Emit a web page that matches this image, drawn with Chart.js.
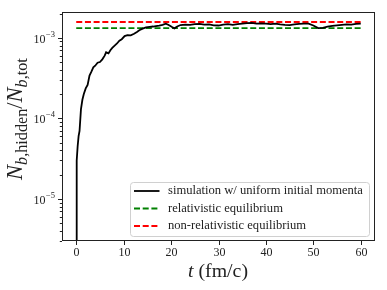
<!DOCTYPE html>
<html><head><meta charset="utf-8">
<script src="https://cdn.jsdelivr.net/npm/chart.js@4"></script>
<style>html,body{margin:0;padding:0;background:#fff}canvas{display:block}</style>
</head><body>
<canvas id="c" width="387" height="290"></canvas>
<script>
// ---- data ----
const simTimes = [0,0.1,0.3,0.5,0.7,1.0,1.3,1.6,2.0,2.4,2.8,3.2,3.6,4.0,4.5,5.0,5.5,6.0,6.3,6.8,7.2,7.6,8.1,8.6,9.1,9.6,10.2,10.8,11.5,12.2,12.8,13.3,14.0,14.7,15.5,16.2,16.8,17.5,18.2,18.9,19.5,20.2,20.7,21.3,22,23,24,25,26,27,28,29,30,31,32,33,34,35,36,37,38,39,40,41,42,43,44,45,46,47,48,49,50,51,52,53,54,55,56,57,58,59,60];
const simValues = [1e-7,3.0e-5,4.5e-5,6.0e-5,7.0e-5,1.3e-4,1.7e-4,2.0e-4,2.35e-4,2.6e-4,3.4e-4,3.8e-4,4.3e-4,4.5e-4,4.9e-4,5.0e-4,5.4e-4,6.0e-4,6.6e-4,6.4e-4,7.0e-4,7.5e-4,8.0e-4,8.5e-4,9.2e-4,9.6e-4,1.05e-3,1.08e-3,1.07e-3,1.12e-3,1.18e-3,1.24e-3,1.30e-3,1.35e-3,1.37e-3,1.38e-3,1.40e-3,1.42e-3,1.45e-3,1.50e-3,1.44e-3,1.36e-3,1.31e-3,1.38e-3,1.44e-3,1.46e-3,1.45e-3,1.48e-3,1.49e-3,1.46e-3,1.47e-3,1.43e-3,1.42e-3,1.46e-3,1.48e-3,1.45e-3,1.48e-3,1.50e-3,1.52e-3,1.53e-3,1.50e-3,1.51e-3,1.50e-3,1.48e-3,1.50e-3,1.47e-3,1.45e-3,1.44e-3,1.47e-3,1.49e-3,1.50e-3,1.50e-3,1.42e-3,1.32e-3,1.33e-3,1.38e-3,1.41e-3,1.43e-3,1.45e-3,1.47e-3,1.46e-3,1.49e-3,1.50e-3];
const eqTimes = [0, 60];
const relEqValues = [1.32e-3, 1.32e-3];
const nonRelEqValues = [1.57e-3, 1.57e-3];
const xTickValues = [0,10,20,30,40,50,60];
const xTickLabels = ['0','10','20','30','40','50','60'];
const yTickValues = [1e-5,1e-4,1e-3];
const yTickBase = ['10','10','10'];
const yTickExp = ['\u22125','\u22124','\u22123'];
const seriesLabels = ['simulation w/ uniform initial momenta','relativistic equilibrium','non-relativistic equilibrium'];
const seriesColors = ['#000000','#008000','#ff0000'];

const SERIF = '"Liberation Serif","DejaVu Serif",serif';

function toXY(xs, ys){ return xs.map((x,i)=>({x:x,y:ys[i]})); }

// draw a run of styled text parts scaled to a target width; returns nothing
function drawRich(ctx, parts, targetW, cx, cy){
  let tot=0;
  parts.forEach(p=>{ctx.font=(p.it?'italic ':'')+p.s+'px '+SERIF; tot+=ctx.measureText(p.t).width;});
  const k = targetW/tot;
  let x = cx - targetW/2;
  ctx.textAlign='left'; ctx.textBaseline='alphabetic';
  parts.forEach(p=>{
    ctx.font=(p.it?'italic ':'')+(p.s*k).toFixed(2)+'px '+SERIF;
    ctx.fillText(p.t, x, cy + (p.dy||0)*k);
    x += ctx.measureText(p.t).width;
  });
}

const overlay = {
  id:'overlay',
  afterDraw(chart){
    const ctx = chart.ctx, a = chart.chartArea;
    const xs = chart.scales.x, ys = chart.scales.y;
    ctx.save();
    // frame
    ctx.strokeStyle = '#222'; ctx.lineWidth = 1;
    ctx.strokeRect(Math.round(a.left)+0.5, Math.round(a.top)+0.5, Math.round(a.right-a.left)-1, Math.round(a.bottom-a.top)-1);
    // x ticks
    ctx.fillStyle = '#222';
    ctx.font = '12px ' + SERIF;
    ctx.textAlign = 'center'; ctx.textBaseline = 'middle';
    xTickValues.forEach((v,i)=>{
      const px = Math.round(xs.getPixelForValue(v))+0.5;
      ctx.beginPath(); ctx.moveTo(px, a.bottom); ctx.lineTo(px, a.bottom+4); ctx.stroke();
      ctx.fillText(xTickLabels[i], px, a.bottom+11.5);
    });
    // y minor ticks
    for (let e=-7;e<=-2;e++){
      for (let m=2;m<=9;m++){
        const v = m*Math.pow(10,e);
        if (v<ys.min || v>ys.max) continue;
        const py = Math.round(ys.getPixelForValue(v))+0.5;
        ctx.beginPath(); ctx.moveTo(a.left, py); ctx.lineTo(a.left-2.2, py); ctx.stroke();
      }
    }
    // y major ticks + labels
    yTickValues.forEach((v,i)=>{
      const py = Math.round(ys.getPixelForValue(v))+0.5;
      ctx.beginPath(); ctx.moveTo(a.left, py); ctx.lineTo(a.left-4, py); ctx.stroke();
      ctx.font = '8.5px ' + SERIF;
      const ew = ctx.measureText(yTickExp[i]).width;
      ctx.textAlign = 'right'; ctx.textBaseline = 'middle';
      const right = a.left - 7;
      ctx.fillText(yTickExp[i], right, py-4);
      ctx.font = '12px ' + SERIF;
      ctx.fillText(yTickBase[i], right-ew-0.5, py+1);
    });
    // x title
    drawRich(ctx, [{t:'t',it:true,s:16},{t:' (fm/c)',s:16}], 60, 218, 277);
    // y title (rotated)
    ctx.translate(22, 119);
    ctx.rotate(-Math.PI/2);
    drawRich(ctx, [
      {t:'N',it:true,s:16},{t:'b',it:true,s:11.5,dy:3.5},{t:',hidden',s:11.5,dy:3.5},
      {t:'/',s:16},
      {t:'N',it:true,s:16},{t:'b',it:true,s:11.5,dy:3.5},{t:',tot',s:11.5,dy:3.5}
    ], 122, 0, 0);
    ctx.setTransform(1,0,0,1,0,0);
    // legend
    const lx=130.5, ly=182.5, lw=239, lh=54, r=3;
    ctx.beginPath();
    ctx.moveTo(lx+r,ly); ctx.lineTo(lx+lw-r,ly); ctx.arcTo(lx+lw,ly,lx+lw,ly+r,r);
    ctx.lineTo(lx+lw,ly+lh-r); ctx.arcTo(lx+lw,ly+lh,lx+lw-r,ly+lh,r);
    ctx.lineTo(lx+r,ly+lh); ctx.arcTo(lx,ly+lh,lx,ly+lh-r,r);
    ctx.lineTo(lx,ly+r); ctx.arcTo(lx,ly,lx+r,ly,r); ctx.closePath();
    ctx.fillStyle='rgba(255,255,255,0.85)'; ctx.fill();
    ctx.strokeStyle='#d0d0d0'; ctx.lineWidth=1; ctx.stroke();
    const rows=[191,208.5,226];
    ctx.font='12px '+SERIF;
    const kf = 195/ctx.measureText(seriesLabels[0]).width;
    ctx.font=(12*kf).toFixed(2)+'px '+SERIF; ctx.textAlign='left'; ctx.textBaseline='middle';
    chart.data.datasets.forEach((ds,i)=>{
      ctx.strokeStyle=ds.borderColor; ctx.lineWidth=1.8;
      ctx.setLineDash(ds.borderDash||[]);
      ctx.beginPath(); ctx.moveTo(134,rows[i]); ctx.lineTo(159.5,rows[i]); ctx.stroke();
      ctx.setLineDash([]);
      ctx.fillStyle='#222'; ctx.fillText(ds.label,168,rows[i]);
    });
    ctx.restore();
  }
};

new Chart(document.getElementById('c'), {
  type:'line',
  data:{ datasets:[
    {label:seriesLabels[0], data:toXY(simTimes,simValues), borderColor:seriesColors[0], borderWidth:1.8, pointRadius:0, tension:0, order:1},
    {label:seriesLabels[1], data:toXY(eqTimes,relEqValues), borderColor:seriesColors[1], borderWidth:1.8, borderDash:[6,2.7], pointRadius:0, order:2},
    {label:seriesLabels[2], data:toXY(eqTimes,nonRelEqValues), borderColor:seriesColors[2], borderWidth:1.8, borderDash:[6,2.7], pointRadius:0, order:3}
  ]},
  options:{
    responsive:false, animation:false, devicePixelRatio:1,
    layout:{padding:{top:12,right:12,left:0,bottom:0}},
    plugins:{legend:{display:false}, tooltip:{enabled:false}},
    scales:{
      x:{type:'linear', min:-3, max:63, ticks:{display:false}, grid:{display:false}, border:{display:false}, afterFit:s=>{s.height=49;}},
      y:{type:'logarithmic', min:3e-6, max:2.09e-3, ticks:{display:false}, grid:{display:false}, border:{display:false}, afterFit:s=>{s.width=62;}}
    }
  },
  plugins:[overlay]
});
</script>
</body></html>
